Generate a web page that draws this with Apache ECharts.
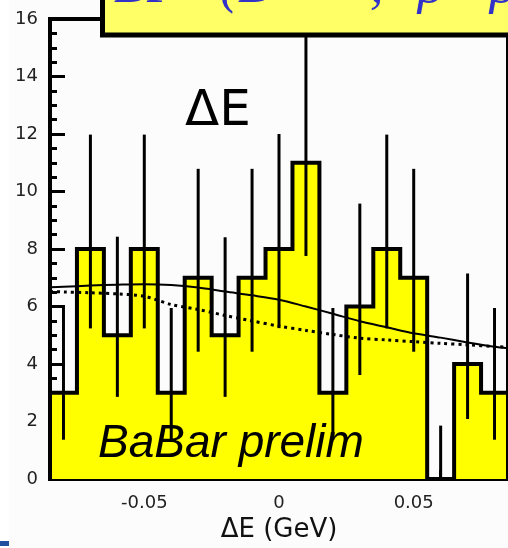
<!DOCTYPE html>
<html>
<head>
<meta charset="utf-8">
<style>
  html, body { margin: 0; padding: 0; background: #fcfcfc; }
  #chart { width: 508px; height: 548px; }
</style>
<script src="https://cdn.jsdelivr.net/npm/echarts@6/dist/echarts.min.js"></script>
</head>
<body>
<div id="chart"></div>
<script>
// ΔE distribution: bin centres (GeV), bin width and event counts per bin
const binCenters = [-0.08, -0.07, -0.06, -0.05, -0.04, -0.03, -0.02, -0.01, 0,
                    0.01, 0.02, 0.03, 0.04, 0.05, 0.06, 0.07, 0.08];
const binWidth = 0.01;
const counts = [3, 8, 5, 8, 3, 7, 5, 7, 8, 11, 3, 6, 8, 7, 0, 4, 3];

// Poisson error bar ends for each bin
const errLow  = [1.37, 5.24, 2.86, 5.24, 1.37, 4.43, 2.86, 4.43, 5.25, 7.76, 1.37, 3.62, 5.24, 4.43, 0, 2.09, 1.37];
const errHigh = [5.95, 11.98, 8.43, 11.98, 5.95, 10.79, 8.41, 10.79, 12.0, 15.4, 5.95, 9.58, 11.98, 10.79, 1.86, 7.15, 5.95];

// Fit projections: total (solid) and background (dotted)
const fitX     = [-0.085, -0.08, -0.07, -0.06, -0.05, -0.04, -0.03, -0.02, -0.01, 0,
                  0.01, 0.02, 0.03, 0.04, 0.05, 0.06, 0.07, 0.08, 0.085];
const totalFit = [6.67, 6.69, 6.73, 6.76, 6.78, 6.75, 6.66, 6.52, 6.39, 6.24,
                  6.00, 5.75, 5.49, 5.28, 5.07, 4.92, 4.75, 4.60, 4.55];
const bkgFit   = [6.53, 6.51, 6.48, 6.44, 6.36, 6.07, 5.90, 5.69, 5.50, 5.32,
                  5.17, 5.03, 4.90, 4.84, 4.78, 4.72, 4.67, 4.61, 4.59];

// Axis ticks
const xRange = [-0.085, 0.085];
const xMajorTicks = [-0.05, 0, 0.05];
const xMinorTicks = [-0.08, -0.07, -0.06, -0.04, -0.03, -0.02, -0.01,
                     0.01, 0.02, 0.03, 0.04, 0.06, 0.07, 0.08];
const yRange = [0, 16];
const yStep = 2;

// Texts
const xTitle = 'ΔE (GeV)';
const panelLabel = 'ΔE';
const expLabel = 'BaBar prelim';

// Histogram outline as a step path over the bin edges
const outline = [[binCenters[0] - binWidth / 2, 0]];
binCenters.forEach((c, i) => outline.push([c - binWidth / 2, counts[i]]));
const lastEdge = binCenters[binCenters.length - 1] + binWidth / 2;
outline.push([lastEdge, counts[counts.length - 1]]);
outline.push([lastEdge, 0]);

const tickFont = { fontFamily: 'DejaVu Sans', fontSize: 18, color: '#222' };
const serifTitle = { fontFamily: 'Liberation Serif', fontStyle: 'italic', fontSize: 54, color: '#3232c8' };

const chart = echarts.init(document.getElementById('chart'), null, { renderer: 'canvas' });

chart.setOption({
  backgroundColor: '#fcfcfc',
  animation: false,
  grid: {
    left: 50, right: -9.75, top: 19, bottom: 63,
    show: true, borderColor: '#000', borderWidth: 4, backgroundColor: 'transparent'
  },
  xAxis: [
    {
      type: 'value', min: xRange[0], max: xRange[1], position: 'bottom',
      axisLine: { show: true, onZero: false, lineStyle: { color: '#000', width: 4 } },
      axisTick: { show: true, inside: true, length: 16, customValues: xMajorTicks,
                  lineStyle: { color: '#000', width: 3 } },
      axisLabel: Object.assign({ customValues: xMajorTicks, margin: 15 }, tickFont),
      splitLine: { show: false },
      name: xTitle, nameLocation: 'middle', nameGap: 37,
      nameTextStyle: { fontFamily: 'DejaVu Sans', fontSize: 26, color: '#111' }
    },
    {
      type: 'value', min: xRange[0], max: xRange[1], position: 'bottom',
      axisLine: { show: false, onZero: false },
      axisTick: { show: true, inside: true, length: 9, customValues: xMinorTicks,
                  lineStyle: { color: '#000', width: 3 } },
      axisLabel: { show: false },
      splitLine: { show: false }
    }
  ],
  yAxis: {
    type: 'value', min: yRange[0], max: yRange[1], interval: yStep, position: 'left',
    axisLine: { show: true, onZero: false, lineStyle: { color: '#000', width: 4 } },
    axisTick: { show: true, inside: true, length: 15, lineStyle: { color: '#000', width: 3 } },
    minorTick: { show: true, splitNumber: 4, length: 7, lineStyle: { color: '#000', width: 3 } },
    axisLabel: Object.assign({ margin: 12 }, tickFont),
    splitLine: { show: false },
    minorSplitLine: { show: false }
  },
  series: [
    {
      // yellow histogram with black step outline
      type: 'line', xAxisIndex: 0, data: outline, step: 'end',
      showSymbol: false, silent: true,
      lineStyle: { color: '#000', width: 4, join: 'miter' },
      areaStyle: { color: '#ffff00', opacity: 1 },
      z: 2
    },
    {
      // vertical error bars at bin centres
      type: 'custom', xAxisIndex: 0,
      data: binCenters.map((c, i) => [c, errLow[i], errHigh[i]]),
      encode: { x: 0, y: [1, 2] },
      renderItem: function (params, api) {
        const lo = api.coord([api.value(0), api.value(1)]);
        const hi = api.coord([api.value(0), api.value(2)]);
        return {
          type: 'line',
          shape: { x1: lo[0], y1: lo[1], x2: hi[0], y2: hi[1] },
          style: { stroke: '#000', lineWidth: 3 }
        };
      },
      z: 3
    },
    {
      type: 'line', xAxisIndex: 0, data: fitX.map((x, i) => [x, bkgFit[i]]),
      showSymbol: false, smooth: 0.3,
      lineStyle: { color: '#000', width: 3, type: [3, 4] },
      z: 4
    },
    {
      type: 'line', xAxisIndex: 0, data: fitX.map((x, i) => [x, totalFit[i]]),
      showSymbol: false, smooth: 0.3,
      lineStyle: { color: '#000', width: 2 },
      z: 4
    }
  ],
  graphic: [
    { type: 'rect', z: -10, shape: { x: 0, y: 0, width: 9, height: 548 }, style: { fill: '#ffffff' } },
    { type: 'rect', z: 100, shape: { x: 0, y: 541, width: 9, height: 5 }, style: { fill: '#2050a0' } },
    {
      // caption box above the frame
      type: 'rect', z: 100,
      shape: { x: 102.5, y: -40, width: 460, height: 75 },
      style: { fill: '#ffff66', stroke: '#000', lineWidth: 5 }
    },
    {
      type: 'text', z: 101, x: 114, y: 15,
      style: {
        text: '{a|BF}{b|(B⁰ →}{c|,}{d|ρ⁺}{e|ρ⁻)}',
        verticalAlign: 'bottom',
        fill: serifTitle.color,
        fontFamily: serifTitle.fontFamily, fontStyle: serifTitle.fontStyle, fontSize: serifTitle.fontSize,
        rich: {
          a: Object.assign({ width: 106 }, serifTitle),
          b: Object.assign({ width: 150 }, serifTitle),
          c: Object.assign({ width: 48 }, serifTitle),
          d: Object.assign({ width: 72 }, serifTitle),
          e: Object.assign({}, serifTitle)
        }
      }
    },
    {
      type: 'text', z: 101, x: 185, y: 112,
      style: { text: panelLabel, fontFamily: 'DejaVu Sans', fontSize: 50, fill: '#000', verticalAlign: 'middle' }
    },
    {
      type: 'text', z: 101, x: 98, y: 444.7,
      style: { text: expLabel, fontFamily: 'Liberation Sans', fontStyle: 'italic', fontSize: 46,
               fill: '#000', verticalAlign: 'middle' }
    }
  ]
});
</script>
</body>
</html>
